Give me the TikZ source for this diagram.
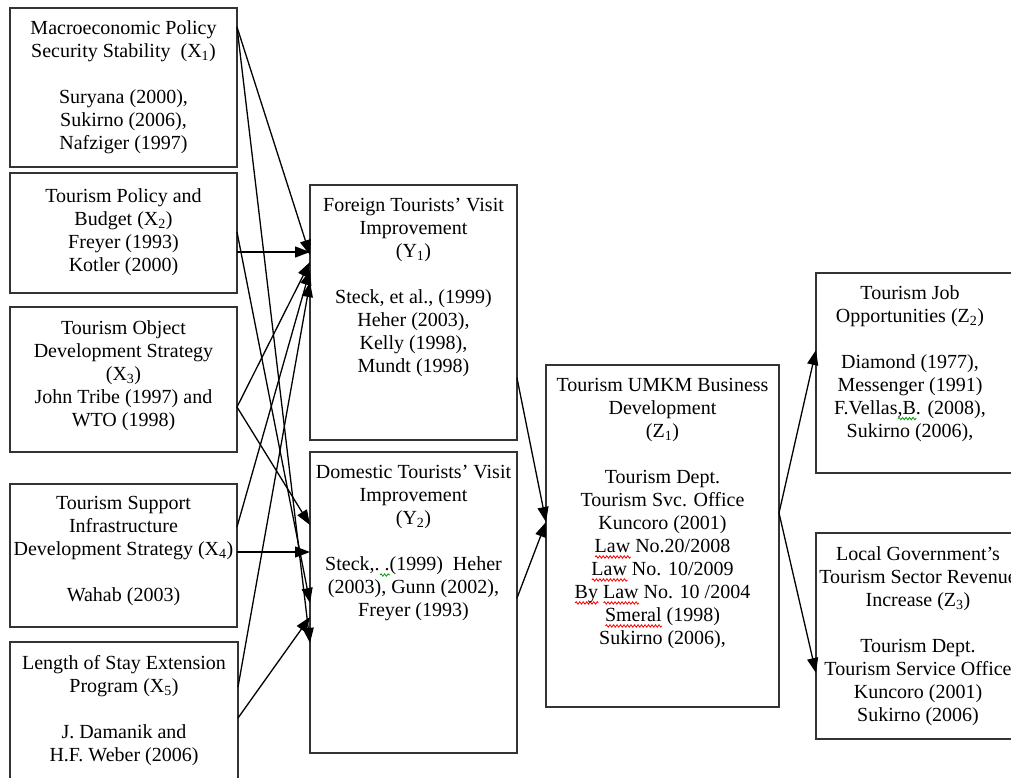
\documentclass[tikz,border=0pt]{standalone}
\usepackage{fontspec}
\setmainfont{Liberation Serif}
\usetikzlibrary{arrows.meta,calc,decorations.pathmorphing}
\newsavebox\wvbox
\newlength\wvlen
\newcommand\wv[2]{\sbox\wvbox{#2}\setlength\wvlen{\wd\wvbox}\rlap{\tikz[baseline=0pt,x=1pt,y=1pt]\draw[#1,line width=0.8pt,decorate,decoration={snake,amplitude=1.2pt,segment length=3.5pt}] (0pt,-4.5pt) -- (\wvlen,-4.5pt);}\usebox\wvbox}
\begin{document}
\begin{tikzpicture}[x=1pt,y=-1pt,
  box/.style={draw=black!80, line width=1.4pt, inner sep=0pt, outer sep=0pt, anchor=north west},
  txt/.style={align=center, inner sep=0pt, anchor=north, font=\fontsize{20pt}{23pt}\selectfont, text=black},
  arr/.style={-{Triangle[length=15pt,width=11pt]}, line width=1.3pt, black}]
\useasboundingbox (0,0) rectangle (1011,778);
\clip (0,0) rectangle (1011,778);
% boxes
\node[box, minimum width=227pt, minimum height=159pt] (x1) at (10,8) {};
\node[box, minimum width=227pt, minimum height=120pt] (x2) at (10,173) {};
\node[box, minimum width=227pt, minimum height=145pt] (x3) at (10,307) {};
\node[box, minimum width=227pt, minimum height=143pt] (x4) at (10,484) {};
\node[box, minimum width=228pt, minimum height=170pt] (x5) at (10,642) {};
\node[box, minimum width=207pt, minimum height=255pt] (y1) at (310,185) {};
\node[box, minimum width=207pt, minimum height=301pt] (y2) at (310,452) {};
\node[box, minimum width=233pt, minimum height=342pt] (z1) at (546,365) {};
\node[box, minimum width=196pt, minimum height=200pt] (z2) at (816,273) {};
\node[box, minimum width=204pt, minimum height=206pt] (z3) at (816,533) {};
% texts
\node[txt] (x1t) at ($(x1.north)+(0,12)$) {Macroeconomic Policy\\Security Stability\ \ (X\textsubscript{1})\\[23pt]Suryana (2000),\\Sukirno (2006),\\Nafziger (1997)};
\node[txt] (x2t) at ($(x2.north)+(0,15)$) {Tourism Policy and\\Budget (X\textsubscript{2})\\Freyer (1993)\\Kotler (2000)};
\node[txt] (x3t) at ($(x3.north)+(0,13)$) {Tourism Object\\Development Strategy\\(X\textsubscript{3})\\John Tribe (1997) and\\WTO (1998)};
\node[txt] (x4t) at ($(x4.north)+(0,12)$) {Tourism Support\\Infrastructure\\Development Strategy (X\textsubscript{4})\\[23pt]Wahab (2003)};
\node[txt] (x5t) at ($(x5.north)+(0,13)$) {Length of Stay Extension\\Program (X\textsubscript{5})\\[23pt]J. Damanik and\\H.F. Weber (2006)};
\node[txt] (y1t) at ($(y1.north)+(0,13)$) {Foreign Tourists’ Visit\\Improvement\\(Y\textsubscript{1})\\[23pt]Steck, et al., (1999)\\Heher (2003),\\Kelly (1998),\\Mundt (1998)};
\node[txt] (y2t) at ($(y2.north)+(0,13)$) {Domestic Tourists’ Visit\\Improvement\\(Y\textsubscript{2})\\[23pt]Steck,.\wv{green!60!black}{\ .}(1999)\ \ Heher\\(2003), Gunn (2002),\\Freyer (1993)};
\node[txt] (z1t) at ($(z1.north)+(0,13)$) {Tourism UMKM Business\\Development\\(Z\textsubscript{1})\\[23pt]Tourism Dept.\\Tourism Svc. Office\\Kuncoro (2001)\\\wv{red}{Law} No.20/2008\\\wv{red}{Law} No. 10/2009\\\wv{red}{By} \wv{red}{Law} No. 10 /2004\\\wv{red}{Smeral} (1998)\\Sukirno (2006),};
\node[txt] (z2t) at ($(z2.north)+(-4,12)$) {Tourism Job\\Opportunities (Z\textsubscript{2})\\[23pt]Diamond (1977),\\Messenger (1991)\\F.Vellas\wv{green!60!black}{,B}. (2008),\\Sukirno (2006),};
\node[txt] (z3t) at ($(z3.north)+(0,13)$) {Local Government’s\\Tourism Sector Revenue\\Increase (Z\textsubscript{3})\\[23pt]Tourism Dept.\\Tourism Service Office\\Kuncoro (2001)\\Sukirno (2006)};
% connectors X -> Y1 / Y2
\draw[arr] ($(x1.north east)+(0,19)$) -- ($(y1.north west)+(0,70)$);
\draw[arr] ($(x1.north east)+(0,19)$) -- ($(y2.north west)+(0,191)$);
\draw[arr] ($(x2.north east)+(0,79)$) -- ($(y1.north west)+(0,67)$);
\draw[arr] ($(x2.north east)+(0,59)$) -- ($(y2.north west)+(0,151)$);
\draw[arr] ($(x3.north east)+(0,100)$) -- ($(y1.north west)+(0,77)$);
\draw[arr] ($(x3.north east)+(0,100)$) -- ($(y2.north west)+(0,73)$);
\draw[arr] ($(x4.north east)+(0,43)$) -- ($(y1.north west)+(0,85)$);
\draw[arr] ($(x4.north east)+(0,68)$) -- ($(y2.north west)+(0,100)$);
\draw[arr] ($(x5.north east)+(0,45)$) -- ($(y1.north west)+(0,97)$);
\draw[arr] ($(x5.north east)+(0,76)$) -- ($(y2.north west)+(0,165)$);
% Y -> Z1
\draw[arr] ($(y1.north east)+(0,193)$) -- ($(z1.north west)+(0,157)$);
\draw[arr] ($(y2.north east)+(0,146)$) -- ($(z1.north west)+(0,157)$);
% Z1 -> Z2, Z3
\draw[arr] ($(z1.north east)+(0,148)$) -- ($(z2.north west)+(0,77)$);
\draw[arr] ($(z1.north east)+(0,148)$) -- ($(z3.north west)+(0,140)$);
\end{tikzpicture}
\end{document}
